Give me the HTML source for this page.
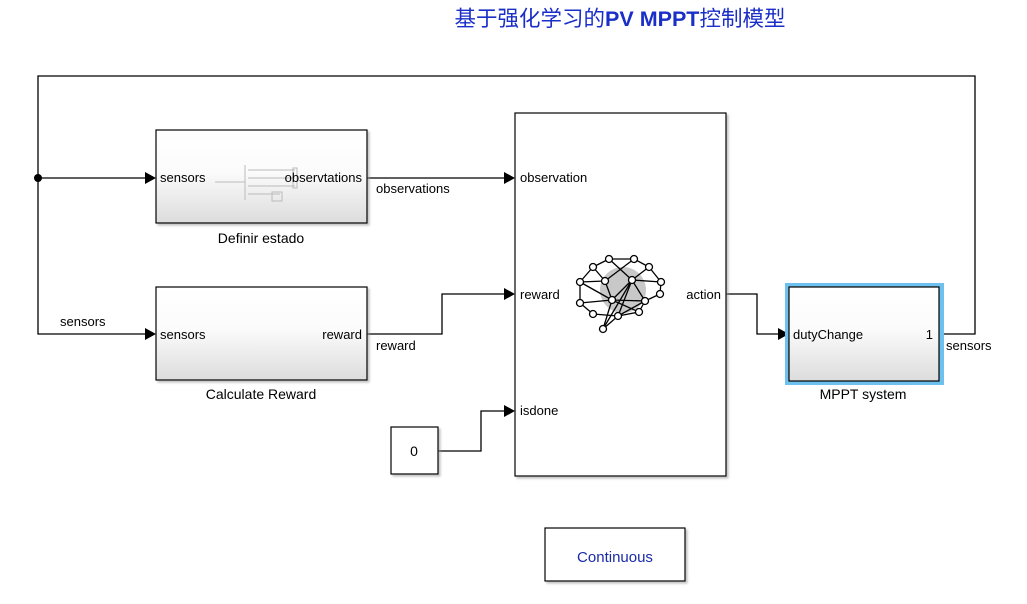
<!DOCTYPE html>
<html><head><meta charset="utf-8"><style>
html,body{margin:0;padding:0;background:#fff;}
svg text{font-family:"Liberation Sans","Noto Sans CJK SC",sans-serif;}
</style></head><body>
<svg width="1027" height="599" viewBox="0 0 1027 599" xmlns="http://www.w3.org/2000/svg">
<defs>
<linearGradient id="g" x1="0" y1="0" x2="0" y2="1">
<stop offset="0" stop-color="#ffffff"/><stop offset="0.45" stop-color="#fbfbfb"/><stop offset="1" stop-color="#dcdcdc"/>
</linearGradient>
<filter id="sh"><feDropShadow dx="2" dy="2" stdDeviation="1" flood-color="#999" flood-opacity="0.6"/></filter>
</defs>
<text x="620" y="26" text-anchor="middle" font-size="21.5" fill="#1a2ec8" font-weight="normal">基于强化学习的<tspan font-weight="bold">PV MPPT</tspan>控制模型</text>

<g stroke="#000" stroke-width="1.3" fill="none">
<polyline points="940,334 975,334 975,76 38,76 38,334 146,334"/>
<line x1="38" y1="178" x2="146" y2="178"/>
<line x1="367" y1="178" x2="505" y2="178"/>
<polyline points="367,334 442,334 442,294 505,294"/>
<polyline points="438,451 481,451 481,411 505,411"/>
<polyline points="726,294 757,294 757,334 780,334"/>
</g>
<circle cx="38" cy="178" r="4" fill="#000"/>
<g fill="#000">
<polygon points="145,172 156,178 145,184"/>
<polygon points="145,328 156,334 145,340"/>
<polygon points="504,172 515,178 504,184"/>
<polygon points="504,288 515,294 504,300"/>
<polygon points="504,405 515,411 504,417"/>
<polygon points="778,328 789,334 778,340"/>
</g>

<rect x="156" y="130" width="211" height="93" fill="url(#g)" stroke="#000" stroke-width="1.2" filter="url(#sh)"/>
<g stroke="#bbb" fill="none" stroke-width="1"><line x1="245" y1="165" x2="245" y2="200"/><polyline points="215,182 245,182"/><line x1="248" y1="170" x2="295" y2="170"/><line x1="248" y1="178" x2="295" y2="178"/><line x1="248" y1="186" x2="295" y2="186"/><line x1="248" y1="194" x2="280" y2="194"/><rect x="272" y="192" width="10" height="9"/><rect x="293" y="168" width="4" height="20"/></g>
<text x="160" y="182" font-size="13">sensors</text>
<text x="362" y="182" font-size="13" text-anchor="end">observtations</text>
<text x="261" y="243" font-size="14" text-anchor="middle">Definir estado</text>
<text x="376" y="193" font-size="13">observations</text>

<rect x="156" y="287" width="211" height="93" fill="url(#g)" stroke="#000" stroke-width="1.2" filter="url(#sh)"/>
<text x="160" y="339" font-size="13">sensors</text>
<text x="362" y="339" font-size="13" text-anchor="end">reward</text>
<text x="261" y="399" font-size="14" text-anchor="middle">Calculate Reward</text>
<text x="376" y="350" font-size="13">reward</text>
<text x="60" y="326" font-size="13">sensors</text>

<rect x="515" y="113" width="211" height="363" fill="#fff" stroke="#000" stroke-width="1.2" filter="url(#sh)"/>
<text x="520" y="182" font-size="13">observation</text>
<text x="520" y="299" font-size="13">reward</text>
<text x="520" y="415" font-size="13">isdone</text>
<text x="721" y="299" font-size="13" text-anchor="end">action</text>
<circle cx="623" cy="290" r="23" fill="#c8c8c8"/>
<g stroke="#000" stroke-width="1.3">
<line x1="609" y1="259" x2="634" y2="259"/><line x1="609" y1="259" x2="593" y2="267"/><line x1="634" y1="259" x2="649" y2="267"/>
<line x1="593" y1="267" x2="580" y2="282"/><line x1="649" y1="267" x2="661" y2="282"/><line x1="661" y1="282" x2="660" y2="294"/>
<line x1="580" y1="282" x2="580" y2="303"/><line x1="660" y1="294" x2="645" y2="301"/><line x1="580" y1="303" x2="593" y2="314"/>
<line x1="593" y1="314" x2="618" y2="316"/><line x1="618" y1="316" x2="639" y2="312"/><line x1="639" y1="312" x2="645" y2="301"/>
<line x1="609" y1="259" x2="632" y2="280"/><line x1="634" y1="259" x2="605" y2="281"/><line x1="593" y1="267" x2="605" y2="281"/>
<line x1="649" y1="267" x2="632" y2="280"/><line x1="632" y1="280" x2="661" y2="282"/><line x1="580" y1="282" x2="605" y2="281"/>
<line x1="605" y1="281" x2="612" y2="300"/><line x1="612" y1="300" x2="580" y2="303"/><line x1="632" y1="280" x2="612" y2="300"/>
<line x1="632" y1="280" x2="645" y2="301"/><line x1="580" y1="282" x2="612" y2="300"/><line x1="612" y1="300" x2="645" y2="301"/>
<line x1="612" y1="300" x2="603" y2="329"/><line x1="632" y1="280" x2="618" y2="316"/><line x1="603" y1="329" x2="618" y2="316"/>
<line x1="645" y1="301" x2="618" y2="316"/><line x1="612" y1="300" x2="639" y2="312"/><line x1="632" y1="280" x2="603" y2="329"/>
</g>
<g fill="#fff" stroke="#000" stroke-width="1.3">
<circle cx="609" cy="259" r="3.5"/><circle cx="634" cy="259" r="3.5"/><circle cx="593" cy="267" r="3.5"/><circle cx="649" cy="267" r="3.5"/>
<circle cx="580" cy="282" r="3.5"/><circle cx="605" cy="281" r="3.5"/><circle cx="632" cy="280" r="3.5"/><circle cx="661" cy="282" r="3.5"/>
<circle cx="660" cy="294" r="3.5"/><circle cx="580" cy="303" r="3.5"/><circle cx="612" cy="300" r="3.5"/><circle cx="645" cy="301" r="3.5"/>
<circle cx="593" cy="314" r="3.5"/><circle cx="618" cy="316" r="3.5"/><circle cx="639" cy="312" r="3.5"/><circle cx="603" cy="329" r="3.5"/>
</g>

<rect x="785" y="283" width="159" height="102" fill="#6ec1ee"/>
<rect x="789" y="287" width="150" height="94" fill="url(#g)" stroke="#000" stroke-width="1.2"/>
<text x="793" y="339" font-size="13">dutyChange</text>
<text x="933" y="339" font-size="13" text-anchor="end">1</text>
<text x="863" y="399" font-size="14" text-anchor="middle">MPPT system</text>
<text x="946" y="350" font-size="13">sensors</text>

<rect x="391" y="427" width="47" height="47" fill="#fff" stroke="#000" stroke-width="1.2" filter="url(#sh)"/>
<text x="414" y="456" font-size="14" text-anchor="middle">0</text>

<rect x="545" y="528" width="140" height="53" fill="#fff" stroke="#000" stroke-width="1.2" filter="url(#sh)"/>
<text x="615" y="562" font-size="15" text-anchor="middle" fill="#1a2aa8">Continuous</text>
</svg>
</body></html>
